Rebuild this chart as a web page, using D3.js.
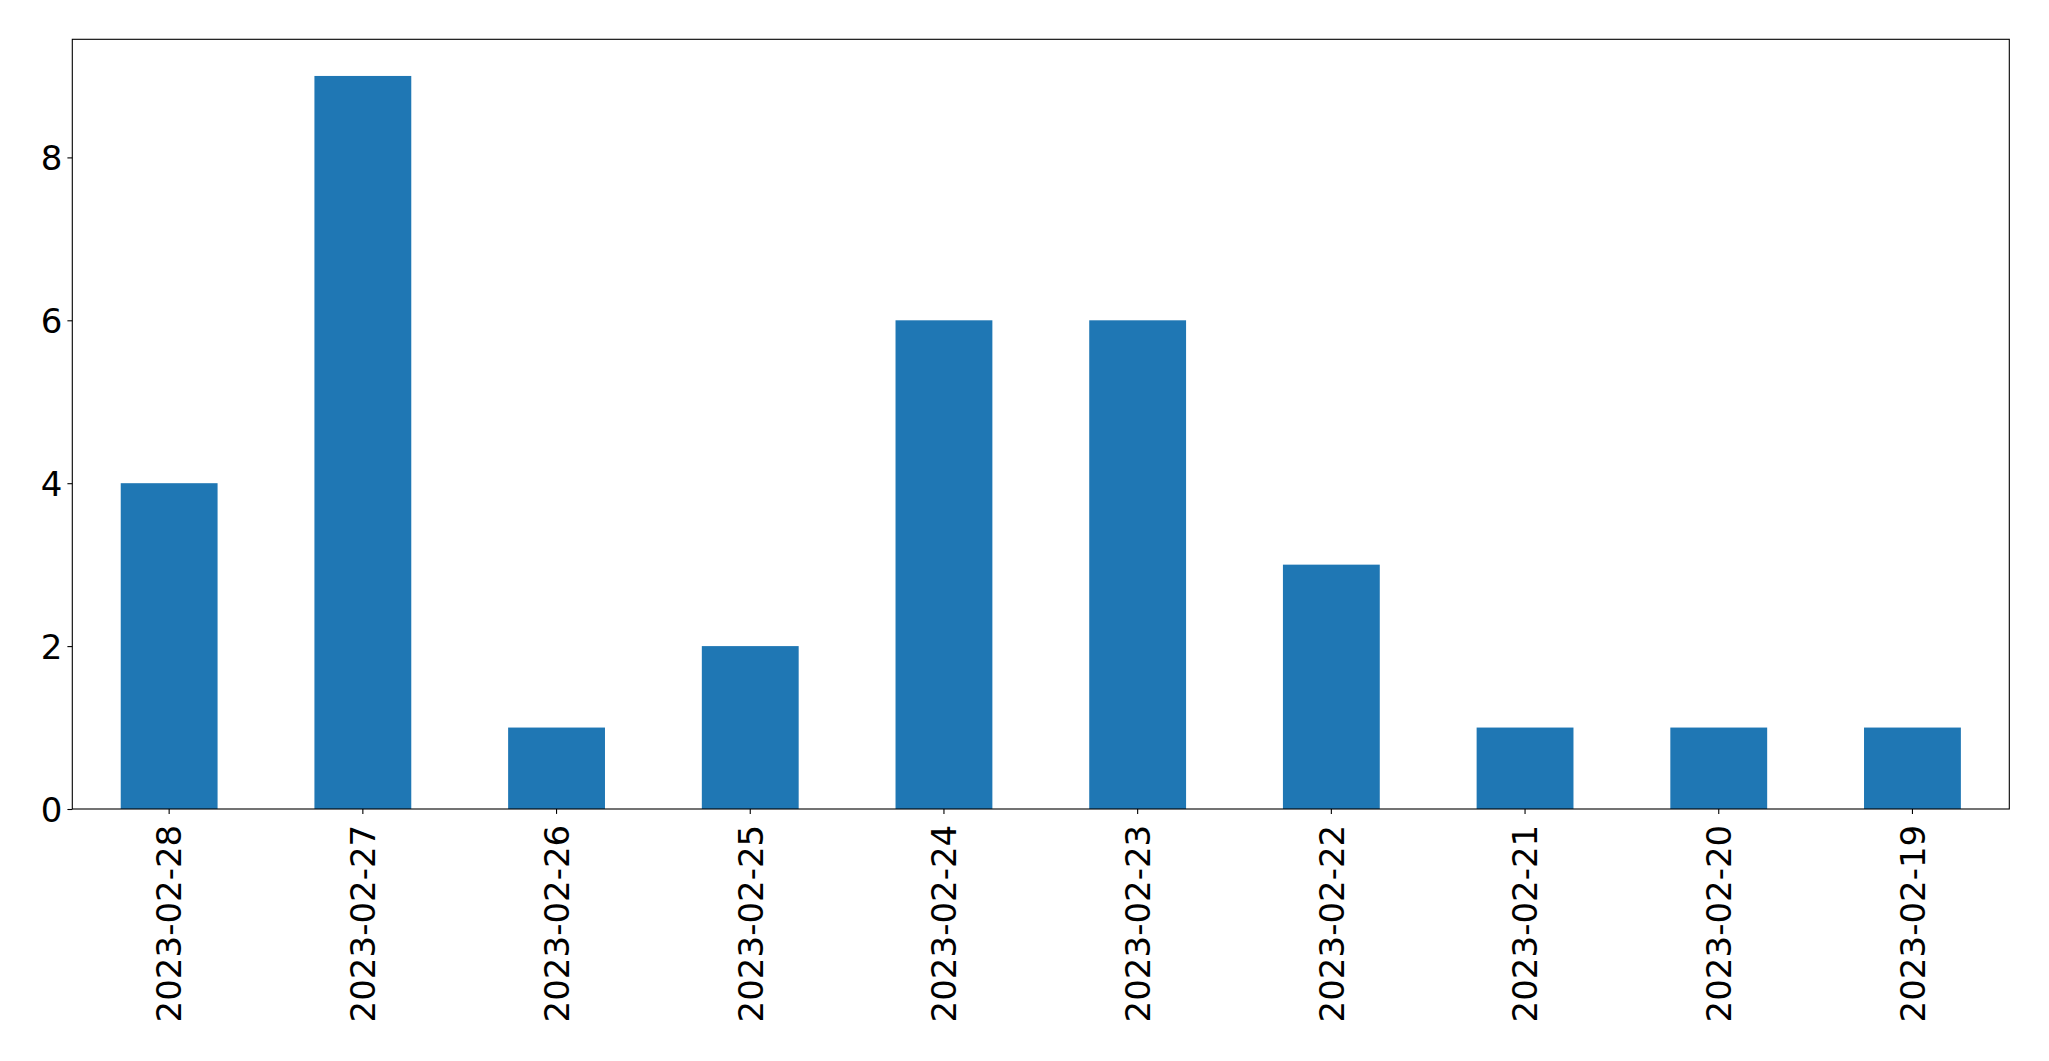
<!DOCTYPE html>
<html><head><meta charset="utf-8">
<script src="https://cdn.jsdelivr.net/npm/d3@7"></script>
<style>body{margin:0;background:#fff}svg{display:block}</style>
</head><body>
<script>
const categories = ["2023-02-28","2023-02-27","2023-02-26","2023-02-25","2023-02-24","2023-02-23","2023-02-22","2023-02-21","2023-02-20","2023-02-19"];
const values = [4,9,1,2,6,6,3,1,1,1];
const yTicks = [0,2,4,6,8];

const W = 2049, H = 1061;
const m = {left:72.3, right:2049-2009.3, top:39.3, bottom:1061-809};
const svg = d3.select("body").append("svg").attr("width",W).attr("height",H);
const x = d3.scaleBand().domain(categories).range([m.left, W-m.right]).paddingInner(0.5).paddingOuter(0.25);
const y = d3.scaleLinear().domain([0, 9.45]).range([H-m.bottom, m.top]);
const font = "DejaVu Sans, sans-serif";
const fs = "34px";

svg.append("g").selectAll("rect").data(values).join("rect")
  .attr("x",(d,i)=>x(categories[i])).attr("width",x.bandwidth())
  .attr("y",d=>y(d)).attr("height",d=>y(0)-y(d)).attr("fill","#1f77b4");

const yAxis = svg.append("g").attr("transform",`translate(${m.left},0)`)
  .call(d3.axisLeft(y).tickValues(yTicks).tickSize(4.9).tickPadding(4.9).tickFormat(d3.format("d")));
yAxis.select(".domain").remove();
yAxis.selectAll("line").attr("stroke","#000").attr("stroke-width",1.1);
yAxis.selectAll("text").attr("font-family",font).attr("font-size",fs).attr("fill","#000").attr("dy","0.36em");

const xAxis = svg.append("g").attr("transform",`translate(0,${H-m.bottom})`)
  .call(d3.axisBottom(x).tickSize(4.9).tickPadding(0));
xAxis.select(".domain").remove();
xAxis.selectAll("line").attr("stroke","#000").attr("stroke-width",1.1);
xAxis.selectAll("text").attr("font-family",font).attr("font-size",fs).attr("fill","#000")
  .attr("transform","rotate(-90)").attr("text-anchor","end").attr("x",-(4.9+4.9+6)).attr("y",0).attr("dy","0.36em");

svg.append("rect").attr("x",m.left).attr("y",m.top).attr("width",W-m.left-m.right).attr("height",H-m.top-m.bottom)
  .attr("fill","none").attr("stroke","#000").attr("stroke-width",1.1);
</script>
</body></html>
